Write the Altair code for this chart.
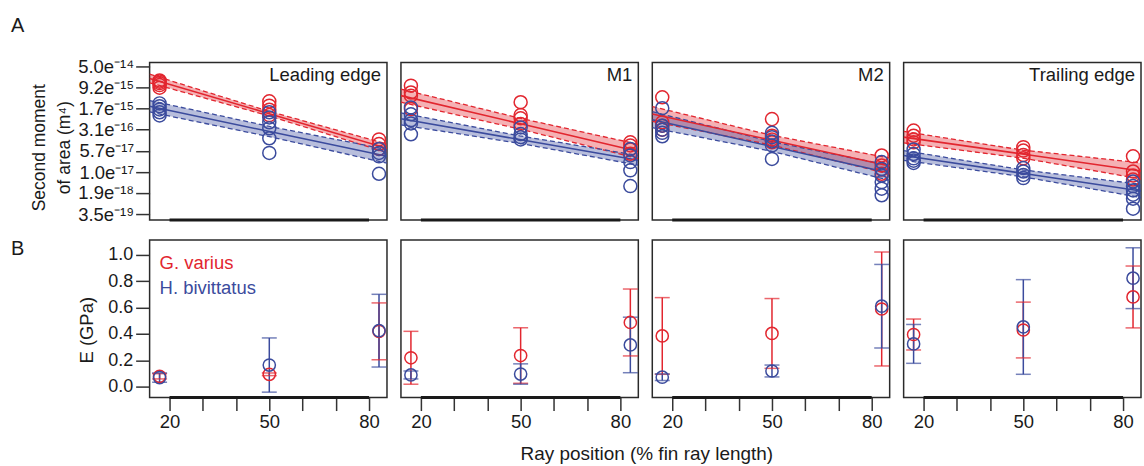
import altair as alt
import pandas as pd

FONT = "Liberation Sans"
RED = "#e2262f"
BLUE = "#3b4b9d"
INK = "#1a1a1a"
W, H = 238, 158

panels = ["Leading edge", "M1", "M2", "Trailing edge"]
species = ["G. varius", "H. bivittatus"]
colors = [RED, BLUE]
positions = [17, 50, 83]          # ray position, % fin ray length
x_ticks = [20, 30, 40, 50, 60, 70, 80]
x_labelled = [20, 50, 80]

I_ticks = [5.0e-14, 9.2e-15, 1.7e-15, 3.1e-16, 5.7e-17, 1.0e-17, 1.9e-18, 3.5e-19]
I_tick_text = ["5.0e⁻¹⁴", "9.2e⁻¹⁵", "1.7e⁻¹⁵", "3.1e⁻¹⁶", "5.7e⁻¹⁷", "1.0e⁻¹⁷", "1.9e⁻¹⁸", "3.5e⁻¹⁹"]
E_ticks = [0.0, 0.2, 0.4, 0.6, 0.8, 1.0]

# Second moment of area of individual rays, log10(m^4), at 17 / 50 / 83 %
lead_gv = [[-13.79, -13.83, -13.88, -13.95, -14.04], [-14.52, -14.67, -14.81, -15.00], [-15.85, -16.01, -16.18]]
lead_hb = [[-14.59, -14.69, -14.80, -14.90, -15.01], [-14.90, -15.08, -15.25, -15.46, -15.81, -16.32], [-16.18, -16.32, -16.44, -17.05]]
m1_gv = [[-13.97, -14.21, -14.32, -14.79], [-14.55, -15.00, -15.11, -15.31], [-15.95, -16.06, -16.20, -16.35]]
m1_hb = [[-14.73, -14.97, -15.18, -15.29, -15.67], [-15.43, -15.66, -15.77, -15.85], [-16.18, -16.41, -16.64, -16.93, -17.48]]
m2_gv = [[-14.38, -15.25, -15.37, -15.51], [-15.14, -15.72, -15.85, -15.95], [-16.41, -16.76, -16.90, -17.05]]
m2_hb = [[-14.76, -15.37, -15.51, -15.62, -15.74], [-15.62, -15.77, -15.92, -16.06, -16.53], [-16.64, -16.88, -17.11, -17.34, -17.57, -17.80]]
trail_gv = [[-15.54, -15.72, -15.85, -15.95], [-16.12, -16.24, -16.39, -16.51], [-16.44, -16.97, -17.11, -17.25]]
trail_hb = [[-16.20, -16.36, -16.51, -16.59, -16.67], [-16.85, -16.97, -17.09, -17.20], [-17.32, -17.48, -17.63, -17.78, -17.92, -18.27]]

# Log-linear fits: log10(m^4) at the two ends of the x range,
# and confidence half-widths (log10 units) at left / middle / right
x_range = [14.0, 85.4]
lead_gv_fit, lead_gv_ci = [-13.72, -16.16], [0.15, 0.08, 0.15]
lead_hb_fit, lead_hb_ci = [-14.69, -16.44], [0.20, 0.18, 0.24]
m1_gv_fit, m1_gv_ci = [-14.32, -16.27], [0.23, 0.19, 0.25]
m1_hb_fit, m1_hb_ci = [-15.13, -16.58], [0.21, 0.13, 0.17]
m2_gv_fit, m2_gv_ci = [-14.96, -16.78], [0.26, 0.17, 0.28]
m2_hb_fit, m2_hb_ci = [-15.16, -17.02], [0.28, 0.17, 0.26]
trail_gv_fit, trail_gv_ci = [-15.77, -16.95], [0.20, 0.14, 0.28]
trail_hb_fit, trail_hb_ci = [-16.41, -17.65], [0.17, 0.12, 0.23]

# Young's modulus E (GPa): means and error half-widths at 17 / 50 / 83 %
lead_gv_E, lead_gv_err = [0.080, 0.095, 0.420], [0.020, 0.010, 0.215]
lead_hb_E, lead_hb_err = [0.070, 0.165, 0.425], [0.035, 0.205, 0.275]
m1_gv_E, m1_gv_err = [0.220, 0.237, 0.487], [0.200, 0.210, 0.253]
m1_hb_E, m1_hb_err = [0.090, 0.097, 0.317], [0.030, 0.077, 0.210]
m2_gv_E, m2_gv_err = [0.385, 0.404, 0.589], [0.290, 0.264, 0.431]
m2_hb_E, m2_hb_err = [0.073, 0.120, 0.610], [0.025, 0.045, 0.316]
trail_gv_E, trail_gv_err = [0.396, 0.430, 0.680], [0.117, 0.211, 0.234]
trail_hb_E, trail_hb_err = [0.325, 0.453, 0.822], [0.147, 0.358, 0.230]

I_sets = [(lead_gv, lead_hb), (m1_gv, m1_hb), (m2_gv, m2_hb), (trail_gv, trail_hb)]
fit_sets = [((lead_gv_fit, lead_gv_ci), (lead_hb_fit, lead_hb_ci)),
            ((m1_gv_fit, m1_gv_ci), (m1_hb_fit, m1_hb_ci)),
            ((m2_gv_fit, m2_gv_ci), (m2_hb_fit, m2_hb_ci)),
            ((trail_gv_fit, trail_gv_ci), (trail_hb_fit, trail_hb_ci))]
E_sets = [((lead_gv_E, lead_gv_err), (lead_hb_E, lead_hb_err)),
          ((m1_gv_E, m1_gv_err), (m1_hb_E, m1_hb_err)),
          ((m2_gv_E, m2_gv_err), (m2_hb_E, m2_hb_err)),
          ((trail_gv_E, trail_gv_err), (trail_hb_E, trail_hb_err))]

# ---- tables -------------------------------------------------------------
pt_rows, fit_rows, e_rows = [], [], []
for p, name in enumerate(panels):
    for s, sp in enumerate(species):
        for pos, vals in zip(positions, I_sets[p][s]):
            for v in vals:
                pt_rows.append({"panel": name, "species": sp, "pos": pos, "I": 10.0 ** v})
        (f0, f1), ci = fit_sets[p][s]
        xs = [x_range[0], (x_range[0] + x_range[1]) / 2, x_range[1]]
        fs = [f0, (f0 + f1) / 2, f1]
        for x, f, h in zip(xs, fs, ci):
            fit_rows.append({"panel": name, "species": sp, "x": x,
                             "fit": 10.0 ** f, "lo": 10.0 ** (f - h), "hi": 10.0 ** (f + h)})
        means, errs = E_sets[p][s]
        for pos, m, e in zip(positions, means, errs):
            e_rows.append({"panel": name, "species": sp, "pos": pos, "E": m, "lo": m - e, "hi": m + e})

points = pd.DataFrame(pt_rows)
fits = pd.DataFrame(fit_rows)
moduli = pd.DataFrame(e_rows)
axis_span = pd.DataFrame({"start": [x_labelled[0]], "end": [x_labelled[-1]]})

# ---- scales and axes ----------------------------------------------------
x_scale = alt.Scale(domain=x_range, nice=False, zero=False)
I_scale = alt.Scale(type="log", domain=[2.16e-19, 6.92e-14], nice=False)
E_scale = alt.Scale(domain=[-0.081, 1.111], nice=False, zero=False)
c_scale = alt.Scale(domain=species, range=colors)
color = alt.Color("species:N", scale=c_scale, legend=None)

label_expr = ""
for v, t in zip(I_ticks, I_tick_text):
    label_expr += f"datum.value > {v * 0.7!r} ? '{t}' : "
label_expr += "''"

I_axis = alt.Axis(values=I_ticks, labelExpr=label_expr, tickSize=14, labelPadding=2,
                  labelFontSize=18.5, title=["Second moment", "of area (m⁴)"],
                  titleFontSize=17.5, titleLineHeight=25, titleX=-110, titleY=85,
                  titleBaseline="middle", titleAngle=270)
E_axis = alt.Axis(values=E_ticks, format=".1f", tickSize=13, labelPadding=3, offset=1,
                  labelFontSize=18, title="E (GPa)", titleFontSize=18.5,
                  titleX=-62, titleY=90, titleBaseline="middle", titleAngle=270)


def x_axis(show_title):
    kw = dict(values=x_ticks, tickSize=13, labelPadding=2, labelFontSize=18.5,
              labelExpr=f"indexof({x_labelled}, datum.value) >= 0 ? datum.label : ''")
    if show_title:
        kw.update(title="Ray position (% fin ray length)", titleFontSize=19,
                  titleX=246, titleY=56, titleBaseline="middle")
    else:
        kw.update(title=None)
    return alt.Axis(**kw)


def label(text, x, y, size, align="left", col=INK):
    return alt.Chart(pd.DataFrame({"t": [text]})).mark_text(
        align=align, baseline="alphabetic", fontSize=size, font=FONT, color=col
    ).encode(text="t:N", x=alt.value(x), y=alt.value(y))


def top_panel(p, name):
    yax = I_axis if p == 0 else None
    pts = points[points.panel == name]
    ft = fits[fits.panel == name]
    X = lambda f: alt.X(f"{f}:Q", scale=x_scale, axis=None)
    Y = lambda f: alt.Y(f"{f}:Q", scale=I_scale, axis=yax)
    band = alt.Chart(ft).mark_area(opacity=0.36, clip=True).encode(
        X("x"), Y("lo"), alt.Y2("hi:Q"), color)
    lo = alt.Chart(ft).mark_line(strokeDash=[5, 3], strokeWidth=1.3, clip=True).encode(
        X("x"), Y("lo"), color)
    hi = alt.Chart(ft).mark_line(strokeDash=[5, 3], strokeWidth=1.3, clip=True).encode(
        X("x"), Y("hi"), color)
    line = alt.Chart(ft).mark_line(strokeWidth=1.6, clip=True).encode(X("x"), Y("fit"), color)
    dots = alt.Chart(pts).mark_point(shape="circle", filled=False, size=170,
                                     strokeWidth=1.5, opacity=1).encode(X("pos"), Y("I"), color)
    base = alt.Chart(axis_span).mark_rule(strokeWidth=3, color=INK).encode(
        X("start"), alt.X2("end:Q"), y=alt.value(H))
    layers = [band, lo, hi, line, dots, base, label(name, W - 6, 19, 18.5, align="right")]
    if p == 0:
        layers.append(label("A", -139, -31, 20))
    return alt.layer(*layers).properties(width=W, height=H)


def bottom_panel(p, name):
    yax = E_axis if p == 0 else None
    xax = x_axis(p == 1)
    d = moduli[moduli.panel == name]
    X = lambda f: alt.X(f"{f}:Q", scale=x_scale, axis=xax)
    Y = lambda f: alt.Y(f"{f}:Q", scale=E_scale, axis=yax)
    bars = alt.Chart(d).mark_rule(strokeWidth=1.5).encode(X("pos"), Y("lo"), alt.Y2("hi:Q"), color)
    cap_lo = alt.Chart(d).mark_tick(orient="horizontal", size=15, thickness=1.5).encode(
        X("pos"), Y("lo"), color)
    cap_hi = alt.Chart(d).mark_tick(orient="horizontal", size=15, thickness=1.5).encode(
        X("pos"), Y("hi"), color)
    dots = alt.Chart(d).mark_point(shape="circle", filled=False, size=150,
                                   strokeWidth=1.5, opacity=1).encode(X("pos"), Y("E"), color)
    base = alt.Chart(axis_span).mark_rule(strokeWidth=3, color=INK).encode(
        X("start"), alt.X2("end:Q"), y=alt.value(H))
    layers = [bars, cap_lo, cap_hi, dots, base]
    if p == 0:
        layers.append(label("B", -139, 15, 20))
        for i, sp in enumerate(species):
            layers.append(label(sp, 10, 29 + 25 * i, 18.5, col=colors[i]))
    return alt.layer(*layers).properties(width=W, height=H)


cells = [top_panel(p, n) for p, n in enumerate(panels)] + \
        [bottom_panel(p, n) for p, n in enumerate(panels)]

chart = alt.concat(
    *cells, columns=4, spacing={"row": 20, "column": 14}, bounds="flush"
).properties(
    padding={"left": 10, "top": 14, "right": 0, "bottom": 0}
).configure_view(
    stroke="#2a2a2a", strokeWidth=1.5
).configure_axis(
    labelFont=FONT, titleFont=FONT, labelColor=INK, titleColor=INK,
    titleFontWeight="normal", tickColor="#333333", tickWidth=1.5,
    domain=False, grid=False
)

chart.save("out.html", embed_options={"renderer": "svg", "actions": False})
